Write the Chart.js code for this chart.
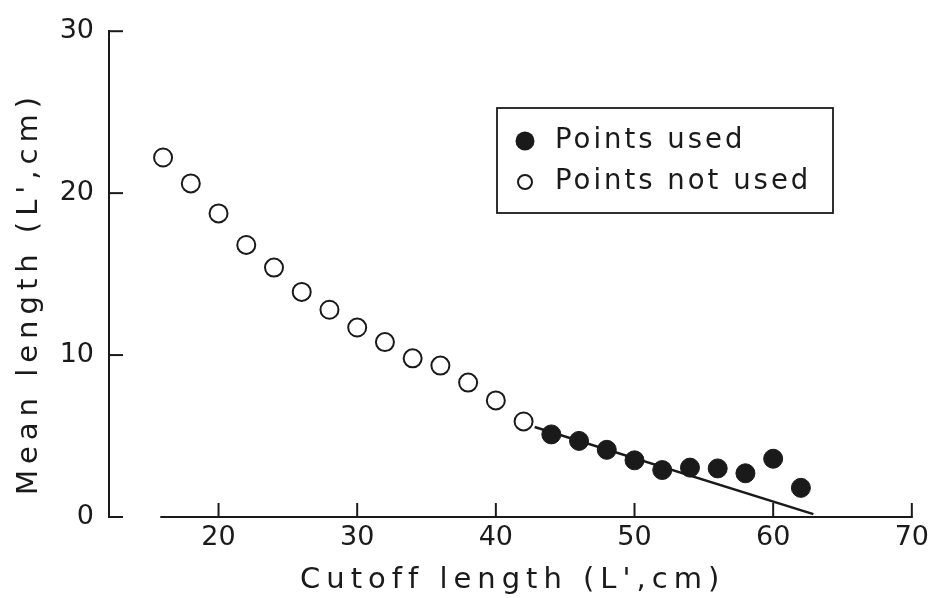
<!DOCTYPE html>
<html>
<head>
<meta charset="utf-8">
<script src="https://cdn.jsdelivr.net/npm/chart.js@4/dist/chart.umd.min.js"></script>
<style>
  html, body { margin: 0; padding: 0; background: #ffffff; }
  #wrap { width: 934px; height: 598px; position: relative; }
</style>
</head>
<body>
<div id="wrap"><canvas id="c" width="934" height="598"></canvas></div>
<script>
// ---- data ----
const notUsedX = [16, 18, 20, 22, 24, 26, 28, 30, 32, 34, 36, 38, 40, 42];
const notUsedY = [22.2, 20.6, 18.75, 16.8, 15.4, 13.9, 12.8, 11.7, 10.8, 9.8, 9.35, 8.3, 7.2, 5.9];
const usedX = [44, 46, 48, 50, 52, 54, 56, 58, 60, 62];
const usedY = [5.1, 4.7, 4.15, 3.5, 2.9, 3.05, 3.0, 2.7, 3.6, 1.8];
const fitX = [42.8, 62.9];
const fitY = [5.56, 0.18];
const xTicks = [20, 30, 40, 50, 60, 70];
const yTicks = [0, 10, 20, 30];
const xAxisStart = 15.8;
const xTitle = "Cutoff length (L',cm)";
const yTitle = "Mean length (L',cm)";
const legendLabels = ["Points used", "Points not used"];

const INK = '#1a1a1a';
const FONT = '"DejaVu Sans", sans-serif';

const toPts = (xs, ys) => xs.map((x, i) => ({ x: x, y: ys[i] }));

const axesPlugin = {
  id: 'axesPlugin',
  afterDraw(chart) {
    const ctx = chart.ctx;
    const xs = chart.scales.x, ys = chart.scales.y;
    const area = chart.chartArea;
    ctx.save();
    ctx.strokeStyle = INK;
    ctx.lineWidth = 2;
    ctx.lineCap = 'butt';
    // x axis line (detached from y axis)
    const yb = ys.getPixelForValue(0);
    ctx.beginPath();
    ctx.moveTo(xs.getPixelForValue(xAxisStart), yb);
    ctx.lineTo(xs.getPixelForValue(xTicks[xTicks.length - 1]) + 1, yb);
    ctx.stroke();
    // x ticks pointing up
    xTicks.forEach(v => {
      const px = xs.getPixelForValue(v);
      ctx.beginPath();
      ctx.moveTo(px, yb);
      ctx.lineTo(px, yb - 14);
      ctx.stroke();
    });
    // y ticks pointing right
    const xl = area.left;
    yTicks.forEach(v => {
      const py = ys.getPixelForValue(v);
      ctx.beginPath();
      ctx.moveTo(xl - 1, py);
      ctx.lineTo(xl + 14, py);
      ctx.stroke();
    });
    // axis titles
    ctx.fillStyle = INK;
    ctx.font = '29px ' + FONT;
    ctx.letterSpacing = '6px';
    ctx.textAlign = 'left';
    ctx.textBaseline = 'middle';
    ctx.fillText(xTitle, 300, 580);
    ctx.save();
    ctx.translate(29, 296);
    ctx.rotate(-Math.PI / 2);
    ctx.textAlign = 'center';
    ctx.fillText(yTitle, 3, 0);
    ctx.restore();
    // legend box
    ctx.lineWidth = 1.8;
    ctx.strokeRect(497, 108, 336, 105);
    ctx.beginPath();
    ctx.arc(525, 141, 9.5, 0, Math.PI * 2);
    ctx.fillStyle = INK;
    ctx.fill();
    ctx.beginPath();
    ctx.arc(525, 182, 7, 0, Math.PI * 2);
    ctx.lineWidth = 2;
    ctx.stroke();
    ctx.textAlign = 'left';
    ctx.font = '27.5px ' + FONT;
    ctx.letterSpacing = '3px';
    ctx.fillText(legendLabels[0], 555, 141);
    ctx.fillText(legendLabels[1], 555, 182);
    ctx.restore();
  }
};

new Chart(document.getElementById('c'), {
  type: 'scatter',
  data: {
    datasets: [
      {
        label: legendLabels[1],
        data: toPts(notUsedX, notUsedY),
        pointRadius: 9,
        pointBackgroundColor: '#ffffff',
        pointBorderColor: INK,
        pointBorderWidth: 2,
        showLine: false
      },
      {
        label: 'fit',
        data: toPts(fitX, fitY),
        showLine: true,
        pointRadius: 0,
        borderColor: INK,
        borderWidth: 2.5,
        fill: false
      },
      {
        label: legendLabels[0],
        data: toPts(usedX, usedY),
        pointRadius: 9.5,
        pointBackgroundColor: INK,
        pointBorderColor: INK,
        pointBorderWidth: 1,
        showLine: false
      }
    ]
  },
  options: {
    responsive: false,
    animation: false,
    events: [],
    layout: { padding: { top: 24, right: 16, left: 0, bottom: 0 } },
    plugins: { legend: { display: false }, tooltip: { enabled: false } },
    scales: {
      x: {
        type: 'linear',
        min: 12.1,
        max: 70,
        afterBuildTicks(scale) { scale.ticks = xTicks.map(v => ({ value: v })); },
        afterFit(scale) { scale.height = 81; },
        grid: { display: false, drawTicks: false },
        border: { display: false },
        ticks: { color: INK, padding: 5, font: { family: FONT, size: 27 }, maxRotation: 0, autoSkip: false }
      },
      y: {
        type: 'linear',
        min: 0,
        max: 30,
        afterBuildTicks(scale) { scale.ticks = yTicks.map(v => ({ value: v })); },
        afterFit(scale) { scale.width = 109; },
        grid: { display: false, drawTicks: false },
        border: { display: true, color: INK, width: 2 },
        ticks: { color: INK, padding: 15, font: { family: FONT, size: 27 } }
      }
    }
  },
  plugins: [axesPlugin]
});
</script>
</body>
</html>
